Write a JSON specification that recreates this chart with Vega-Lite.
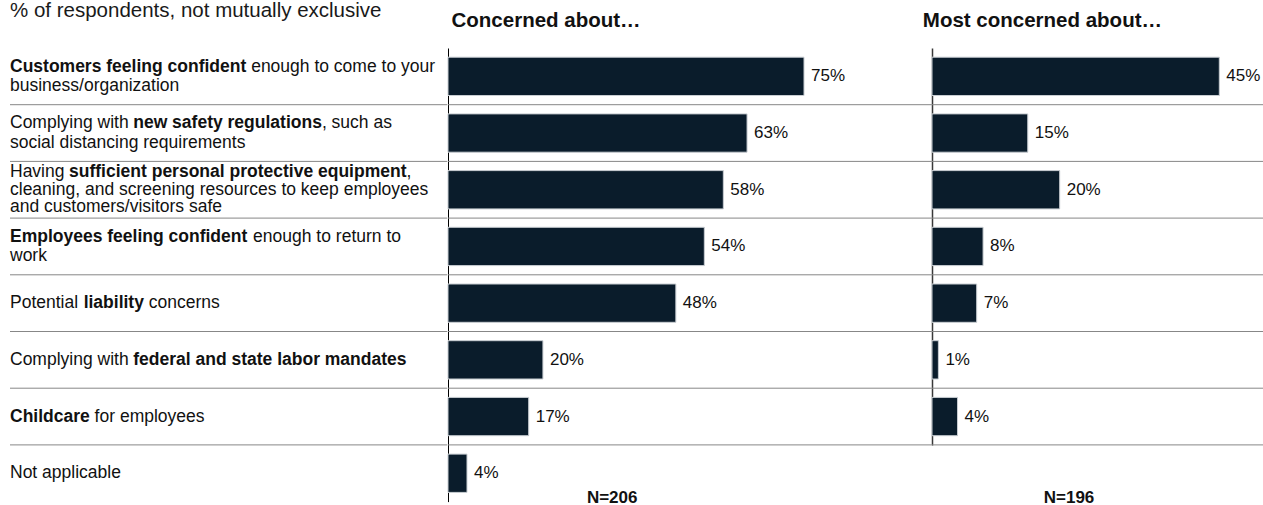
{
  "$schema": "https://vega.github.io/schema/vega-lite/v6.json",
  "padding": 0,
  "spacing": 0,
  "bounds": "flush",
  "config": {"view": {"stroke": null}, "font": "Liberation Sans", "axis": {"minExtent": 0, "maxExtent": 0}},
  "datasets": {
    "bars": [
      {"cat": "c1", "concerned": 75, "most": 45},
      {"cat": "c2", "concerned": 63, "most": 15},
      {"cat": "c3", "concerned": 58, "most": 20},
      {"cat": "c4", "concerned": 54, "most": 8},
      {"cat": "c5", "concerned": 48, "most": 7},
      {"cat": "c6", "concerned": 20, "most": 1},
      {"cat": "c7", "concerned": 17, "most": 4},
      {"cat": "c8", "concerned": 4, "most": null}
    ],
    "labels": [
      {"cat": "c1", "line": 0, "seg": 0, "t": "Customers feeling confident ", "b": true},
      {"cat": "c1", "line": 0, "seg": 1, "t": "enough to come to your", "b": false},
      {"cat": "c1", "line": 1, "seg": 0, "t": "business/organization", "b": false},
      {"cat": "c2", "line": 0, "seg": 0, "t": "Complying with ", "b": false},
      {"cat": "c2", "line": 0, "seg": 1, "t": "new safety regulations", "b": true},
      {"cat": "c2", "line": 0, "seg": 2, "t": ", such as", "b": false},
      {"cat": "c2", "line": 1, "seg": 0, "t": "social distancing requirements", "b": false},
      {"cat": "c3", "line": 0, "seg": 0, "t": "Having ", "b": false},
      {"cat": "c3", "line": 0, "seg": 1, "t": "sufficient personal protective equipment", "b": true},
      {"cat": "c3", "line": 0, "seg": 2, "t": ",", "b": false},
      {"cat": "c3", "line": 1, "seg": 0, "t": "cleaning, and screening resources to keep employees", "b": false},
      {"cat": "c3", "line": 2, "seg": 0, "t": "and customers/visitors safe", "b": false},
      {"cat": "c4", "line": 0, "seg": 0, "t": "Employees feeling confident ", "b": true},
      {"cat": "c4", "line": 0, "seg": 1, "t": "enough to return to", "b": false},
      {"cat": "c4", "line": 1, "seg": 0, "t": "work", "b": false},
      {"cat": "c5", "line": 0, "seg": 0, "t": "Potential ", "b": false},
      {"cat": "c5", "line": 0, "seg": 1, "t": "liability ", "b": true},
      {"cat": "c5", "line": 0, "seg": 2, "t": "concerns", "b": false},
      {"cat": "c6", "line": 0, "seg": 0, "t": "Complying with ", "b": false},
      {"cat": "c6", "line": 0, "seg": 1, "t": "federal and state labor mandates", "b": true},
      {"cat": "c7", "line": 0, "seg": 0, "t": "Childcare ", "b": true},
      {"cat": "c7", "line": 0, "seg": 1, "t": "for employees", "b": false},
      {"cat": "c8", "line": 0, "seg": 0, "t": "Not applicable", "b": false}
    ]
  },
  "hconcat": [
    {
      "width": 447.3,
      "height": 453.6,
      "title": {"text": "% of respondents, not mutually exclusive", "anchor": "start", "fontSize": 20.5, "fontWeight": "normal", "offset": 26.8, "dx": 10, "color": "#1a1a1a"},
      "layer": [
        {
          "data": {"name": "bars"},
          "transform": [
            {"filter": "datum.cat != 'c8'"},
            {"calculate": "indexof(['c1','c2','c3','c4','c5','c6','c7','c8'], datum.cat) + 1", "as": "edge"}
          ],
          "mark": {"type": "rule", "color": "#878787", "strokeWidth": 1},
          "encoding": {
            "y": {"field": "edge", "type": "quantitative", "scale": {"domain": [0, 8], "reverse": true, "nice": false, "zero": false}, "axis": null},
            "x": {"datum": 10, "type": "quantitative", "scale": {"domain": [0, 447.3], "nice": false, "zero": false}, "axis": null},
            "x2": {"datum": 447.3}
          }
        },
        {
          "data": {"name": "labels"},
          "transform": [
            {"calculate": "0.556*length(datum.t) - 0.334*(length(split(datum.t,'i'))+length(split(datum.t,'j'))+length(split(datum.t,'l'))-3) - 0.278*(length(split(datum.t,' '))+length(split(datum.t,'f'))+length(split(datum.t,'t'))+length(split(datum.t,','))+length(split(datum.t,'.'))+length(split(datum.t,'/'))-6) - 0.223*(length(split(datum.t,'r'))-1) + 0.277*(length(split(datum.t,'m'))-1) + 0.166*(length(split(datum.t,'w'))-1) - 0.056*(length(split(datum.t,'c'))+length(split(datum.t,'k'))+length(split(datum.t,'s'))+length(split(datum.t,'v'))+length(split(datum.t,'x'))+length(split(datum.t,'y'))+length(split(datum.t,'z'))-7) + 0.15*(length(split(datum.t,'C'))+length(split(datum.t,'H'))+length(split(datum.t,'P'))+length(split(datum.t,'E'))+length(split(datum.t,'N'))-5)", "as": "wr"},
            {"calculate": "0.611*length(datum.t) - 0.333*(length(split(datum.t,'i'))+length(split(datum.t,'j'))+length(split(datum.t,'l'))+length(split(datum.t,' '))+length(split(datum.t,','))+length(split(datum.t,'.'))+length(split(datum.t,'/'))-7) - 0.278*(length(split(datum.t,'f'))+length(split(datum.t,'t'))-2) - 0.222*(length(split(datum.t,'r'))-1) + 0.278*(length(split(datum.t,'m'))-1) + 0.167*(length(split(datum.t,'w'))-1) - 0.055*(length(split(datum.t,'a'))+length(split(datum.t,'e'))+length(split(datum.t,'c'))+length(split(datum.t,'k'))+length(split(datum.t,'s'))+length(split(datum.t,'v'))+length(split(datum.t,'x'))+length(split(datum.t,'y'))+length(split(datum.t,'z'))-9) + 0.111*(length(split(datum.t,'C'))+length(split(datum.t,'H'))+length(split(datum.t,'P'))+length(split(datum.t,'E'))+length(split(datum.t,'N'))-5)", "as": "wb"},
            {"calculate": "(datum.b ? datum.wb : datum.wr) * 17.5", "as": "w"},
            {"window": [{"op": "sum", "field": "w", "as": "cum"}], "groupby": ["cat", "line"], "sort": [{"field": "seg", "order": "ascending"}]},
            {"calculate": "datum.cum - datum.w + 10", "as": "px"},
            {"joinaggregate": [{"op": "max", "field": "line", "as": "maxline"}], "groupby": ["cat"]},
            {"calculate": "indexof(['c1','c2','c3','c4','c5','c6','c7','c8'], datum.cat) + 0.5 + (datum.line - datum.maxline / 2) * (datum.maxline == 2 ? 0.31 : 0.345)", "as": "ypos"}
          ],
          "encoding": {
            "y": {"field": "ypos", "type": "quantitative", "axis": null},
            "x": {"field": "px", "type": "quantitative", "axis": null},
            "text": {"field": "t"}
          },
          "layer": [
            {"transform": [{"filter": "datum.b"}], "mark": {"type": "text", "align": "left", "baseline": "middle", "fontSize": 17.5, "fontWeight": "bold", "color": "#111111"}},
            {"transform": [{"filter": "!datum.b"}], "mark": {"type": "text", "align": "left", "baseline": "middle", "fontSize": 17.5, "fontWeight": "normal", "color": "#111111"}}
          ]
        }
      ]
    },
    {
      "width": 483.7,
      "height": 453.6,
      "title": {"text": "Concerned about…", "anchor": "start", "fontSize": 20.5, "fontWeight": "bold", "offset": 16.4, "dx": 4, "color": "#111111"},
      "data": {"name": "bars"},
      "transform": [{"calculate": "datum.concerned + '%'", "as": "lab"}],
      "encoding": {
        "y": {"field": "cat", "type": "nominal", "scale": {"domain": ["c1","c2","c3","c4","c5","c6","c7","c8"], "paddingInner": 0, "paddingOuter": 0}, "axis": {"labels": false, "ticks": false, "title": null, "domain": true, "domainColor": "#000000", "domainWidth": 1, "grid": false}}
      },
      "layer": [
        {
          "transform": [{"filter": "datum.cat != 'c8'"}],
          "mark": {"type": "rule", "color": "#878787", "strokeWidth": 1},
          "encoding": {"y": {"field": "cat", "type": "nominal", "bandPosition": 1}}
        },
        {
          "mark": {"type": "bar", "fill": "#0a1c2b", "stroke": "#c8cdd2", "strokeWidth": 1, "size": 38.3},
          "encoding": {
            "x": {"field": "concerned", "type": "quantitative", "scale": {"domain": [0, 101.9], "nice": false}, "axis": {"orient": "bottom", "domain": false, "ticks": false, "labels": false, "grid": false, "title": "N=206", "titleFontSize": 17, "titleFontWeight": "bold", "titleColor": "#111111", "titleX": 163.7, "titleY": 1, "titleBaseline": "alphabetic", "titleAlign": "center"}}
          }
        },
        {
          "mark": {"type": "text", "align": "left", "baseline": "middle", "dx": 7, "fontSize": 17, "color": "#111111"},
          "encoding": {"x": {"field": "concerned", "type": "quantitative"}, "text": {"field": "lab"}}
        }
      ]
    },
    {
      "width": 332,
      "height": 396.9,
      "title": {"text": "Most concerned about…", "anchor": "start", "fontSize": 20.5, "fontWeight": "bold", "offset": 16.4, "dx": -8.7, "color": "#111111"},
      "data": {"name": "bars"},
      "transform": [{"filter": "datum.most != null"}, {"calculate": "datum.most + '%'", "as": "lab"}],
      "encoding": {
        "y": {"field": "cat", "type": "nominal", "scale": {"domain": ["c1","c2","c3","c4","c5","c6","c7"], "paddingInner": 0, "paddingOuter": 0}, "axis": {"labels": false, "ticks": false, "title": null, "domain": true, "domainColor": "#3a3a3a", "domainWidth": 1.5, "grid": false}}
      },
      "layer": [
        {
          "mark": {"type": "rule", "color": "#878787", "strokeWidth": 1},
          "encoding": {"y": {"field": "cat", "type": "nominal", "bandPosition": 1}}
        },
        {
          "mark": {"type": "bar", "fill": "#0a1c2b", "stroke": "#c8cdd2", "strokeWidth": 1, "size": 38.3},
          "encoding": {
            "x": {"field": "most", "type": "quantitative", "scale": {"domain": [0, 52.0], "nice": false}, "axis": {"orient": "bottom", "domain": false, "ticks": false, "labels": false, "grid": false, "title": "N=196", "titleFontSize": 17, "titleFontWeight": "bold", "titleColor": "#111111", "titleX": 136.5, "titleY": 57.7, "titleBaseline": "alphabetic", "titleAlign": "center"}}
          }
        },
        {
          "mark": {"type": "text", "align": "left", "baseline": "middle", "dx": 7, "fontSize": 17, "color": "#111111"},
          "encoding": {"x": {"field": "most", "type": "quantitative"}, "text": {"field": "lab"}}
        }
      ]
    }
  ]
}
